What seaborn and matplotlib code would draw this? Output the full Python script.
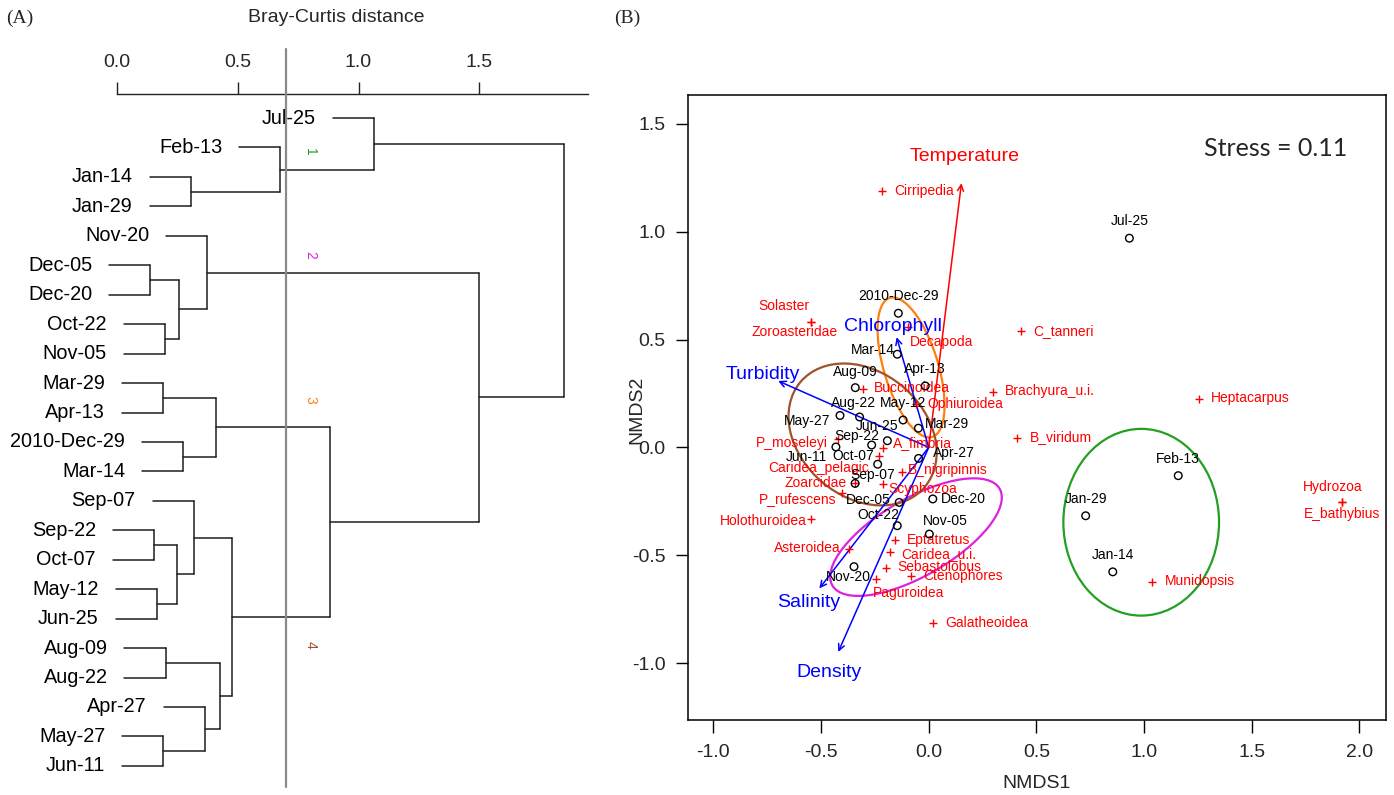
import numpy as np
import pandas as pd
import matplotlib
matplotlib.use("Agg")
import matplotlib.pyplot as plt
from matplotlib.patches import Ellipse
import seaborn as sns

# ------------------------------------------------------------------ data
# Panel A: dendrogram (Bray-Curtis distance)
leaf_order = ["Jul-25", "Feb-13", "Jan-14", "Jan-29", "Nov-20", "Dec-05", "Dec-20",
              "Oct-22", "Nov-05", "Mar-29", "Apr-13", "2010-Dec-29", "Mar-14",
              "Sep-07", "Sep-22", "Oct-07", "May-12", "Jun-25", "Aug-09", "Aug-22",
              "Apr-27", "May-27", "Jun-11"]
merge_a = ["Jan-14", "Feb-13", "Jul-25", "Dec-05", "Oct-22", "g4", "Nov-20", "Mar-29",
           "2010-Dec-29", "g8", "Sep-22", "May-12", "g11", "Sep-07", "Aug-09", "May-27",
           "Apr-27", "g15", "g14", "g10", "g7", "g3"]
merge_b = ["Jan-29", "g1", "g2", "Dec-20", "Nov-05", "g5", "g6", "Apr-13", "Mar-14",
           "g9", "Oct-07", "Jun-25", "g12", "g13", "Aug-22", "Jun-11", "g16", "g17",
           "g18", "g19", "g20", "g21"]
merge_id = ["g%d" % (i + 1) for i in range(22)]
merge_height = [0.306, 0.677, 1.065, 0.137, 0.197, 0.257, 0.373, 0.190, 0.274, 0.410,
                0.153, 0.165, 0.249, 0.318, 0.201, 0.192, 0.364, 0.426, 0.475, 0.880,
                1.497, 1.850]
cut_height = 0.70
axis_ticks_a = [0.0, 0.5, 1.0, 1.5]
cluster_labels = ["1", "2", "3", "4"]
cluster_label_rows = [1.15, 4.65, 9.58, 17.9]
cluster_colors = ["#22a022", "#e020e0", "#ff7f0e", "#a0522d"]

# Panel B: NMDS ordination
site_names = ["Jul-25", "Feb-13", "Jan-14", "Jan-29", "Nov-20", "Dec-05", "Dec-20",
              "Oct-22", "Nov-05", "Mar-29", "Apr-13", "2010-Dec-29", "Mar-14",
              "Sep-07", "Sep-22", "Oct-07", "May-12", "Jun-25", "Aug-09", "Aug-22",
              "Apr-27", "May-27", "Jun-11"]
site_x = [0.932, 1.159, 0.855, 0.729, -0.347, -0.137, 0.019, -0.146, 0.003, -0.048,
          -0.016, -0.141, -0.146, -0.342, -0.265, -0.237, -0.119, -0.192, -0.341,
          -0.321, -0.047, -0.412, -0.431]
site_y = [0.970, -0.131, -0.577, -0.317, -0.553, -0.255, -0.239, -0.363, -0.402, 0.089,
          0.285, 0.622, 0.432, -0.167, 0.011, -0.078, 0.127, 0.031, 0.277, 0.141,
          -0.051, 0.148, 0.002]

species_names = ["Cirripedia", "Solaster", "Zoroasteridae", "Decapoda", "C_tanneri",
                 "Brachyura_u.i.", "Heptacarpus", "B_viridum", "Hydrozoa", "E_bathybius",
                 "Munidopsis", "Buccinoidea", "Ophiuroidea", "A_fimbria", "P_moseleyi",
                 "Caridea_pelagic", "B_nigripinnis", "Zoarcidae", "Scyphozoa",
                 "P_rufescens", "Holothuroidea", "Asteroidea", "Eptatretus",
                 "Caridea_u.i.", "Sebastolobus", "Ctenophores", "Paguroidea",
                 "Galatheoidea"]
species_x = [-0.216, -0.547, -0.547, -0.095, 0.429, 0.300, 1.257, 0.412, 1.918, 1.918,
             1.039, -0.304, -0.061, -0.211, -0.420, -0.231, -0.123, -0.342, -0.214,
             -0.404, -0.548, -0.369, -0.157, -0.180, -0.200, -0.082, -0.245, 0.019]
species_y = [1.190, 0.583, 0.583, 0.560, 0.541, 0.259, 0.224, 0.045, -0.255, -0.255,
             -0.623, 0.269, 0.201, -0.001, 0.041, -0.040, -0.115, -0.167, -0.171,
             -0.213, -0.332, -0.471, -0.429, -0.487, -0.561, -0.595, -0.610, -0.813]

env_names = ["Temperature", "Chlorophyll", "Turbidity", "Salinity", "Density"]
env_x = [0.152, -0.149, -0.699, -0.508, -0.420]
env_y = [1.225, 0.511, 0.308, -0.654, -0.948]

ellipse_cx = [0.987, -0.059, -0.082, -0.307]
ellipse_cy = [-0.347, -0.416, 0.371, 0.060]
ellipse_w = [0.723, 0.897, 0.674, 0.755]
ellipse_h = [0.866, 0.358, 0.252, 0.580]
ellipse_angle = [0.0, 30.0, 107.0, -40.0]

stress_value = 0.11
nmds_ticks = [-1.0, -0.5, 0.0, 0.5, 1.0, 1.5, 2.0]

# ------------------------------------------------------------------ layout (pixels)
site_label_offset = {  # (dx, dy) px of label centre from point, y downwards
    "Jul-25": (0, -17), "Feb-13": (0, -17), "Jan-14": (0, -17), "Jan-29": (0, -17),
    "Nov-20": (-6, 10), "Dec-05": (-31, -2), "Dec-20": (31, 0), "Oct-22": (-19, -11),
    "Nov-05": (16, -13), "Mar-29": (29, -4), "Apr-13": (0, -17),
    "2010-Dec-29": (0, -17), "Mar-14": (-24, -4), "Sep-07": (18, -8),
    "Sep-22": (-15, -9), "Oct-07": (-24, -8), "May-12": (0, -17), "Jun-25": (-10, -15),
    "Aug-09": (0, -16), "Aug-22": (-6, -14), "Apr-27": (35, -5), "May-27": (-33, 6),
    "Jun-11": (-30, 10)}
species_label_offset = {  # (dx, dy, ha)
    "Cirripedia": (12, 0, "left"), "Solaster": (-27, -16, "center"),
    "Zoroasteridae": (-16, 10, "center"), "Decapoda": (2, 15, "left"),
    "C_tanneri": (12, 0, "left"), "Brachyura_u.i.": (12, -1, "left"),
    "Heptacarpus": (12, -1, "left"), "B_viridum": (12, -1, "left"),
    "Hydrozoa": (-9, -15, "center"), "E_bathybius": (0, 12, "center"),
    "Munidopsis": (12, -1, "left"), "Buccinoidea": (11, -1, "left"),
    "Ophiuroidea": (12, 0, "left"), "A_fimbria": (10, -5, "left"),
    "P_moseleyi": (-10, 4, "right"), "Caridea_pelagic": (-10, 12, "right"),
    "B_nigripinnis": (6, -2, "left"), "Zoarcidae": (-8, 0, "right"),
    "Scyphozoa": (6, 5, "left"), "P_rufescens": (-5, 6, "right"),
    "Holothuroidea": (-4, 2, "right"), "Asteroidea": (-9, -1, "right"),
    "Eptatretus": (12, 0, "left"), "Caridea_u.i.": (11, 2, "left"),
    "Sebastolobus": (12, -1, "left"), "Ctenophores": (12, 0, "left"),
    "Paguroidea": (-3, 14, "left"), "Galatheoidea": (12, 0, "left")}

W, H = 1394, 795
PX = 0.72  # points per pixel at dpi 100

sns.set_theme(style="white")
plt.rcParams["font.family"] = ["Liberation Sans", "DejaVu Sans"]

fig = plt.figure(figsize=(W / 100, H / 100), dpi=100)

# ================================================================== Panel A
row_px0, row_step = 118.0, 29.45
ax_top_px = 94.0
axA = fig.add_axes([0.0, 0.0, 600 / W, (H - ax_top_px) / H])
x_px0, x_scale = 117.0, 241.5
axA.set_xlim((0 - x_px0) / x_scale, (600 - x_px0) / x_scale)
axA.set_ylim((H - row_px0) / row_step, (ax_top_px - row_px0) / row_step)

hang = 0.17
pos = {name: i for i, name in enumerate(leaf_order)}
hgt = {}
line_col = "#1e1e1e"
for a, b, h, gid in zip(merge_a, merge_b, merge_height, merge_id):
    for child in (a, b):
        if child not in hgt:  # leaf
            hgt[child] = h - hang
        axA.plot([hgt[child], h], [pos[child], pos[child]], color=line_col, lw=1.1)
    axA.plot([h, h], [pos[a], pos[b]], color=line_col, lw=1.1)
    pos[gid] = (pos[a] + pos[b]) / 2.0
    hgt[gid] = h

for name in leaf_order:
    axA.annotate(name, xy=(hgt[name], pos[name]), xytext=(-17 * PX, 0),
                 textcoords="offset points", ha="right", va="center",
                 fontsize=14.3, color="black")

axA.plot([cut_height, cut_height], [(49 - row_px0) / row_step, (787 - row_px0) / row_step],
         color="#8a8a8a", lw=1.6, clip_on=False, zorder=5)

for lab, r, c in zip(cluster_labels, cluster_label_rows, cluster_colors):
    axA.text(0.80, r, lab, color=c, fontsize=10, rotation=-90, ha="center", va="center")

for s in ["left", "right", "bottom"]:
    axA.spines[s].set_visible(False)
axA.spines["top"].set_visible(True)
axA.spines["top"].set_color("#222222")
axA.spines["top"].set_linewidth(1.0)
axA.spines["top"].set_bounds(0.0, 1.95)
axA.xaxis.tick_top()
axA.set_xticks(axis_ticks_a)
axA.set_xticklabels(["%.1f" % t for t in axis_ticks_a])
axA.set_yticks([])
axA.tick_params(axis="x", direction="out", length=12 * PX, width=1.0, color="#222222",
                labelsize=14, pad=8, top=True, bottom=False)
axA.set_facecolor("none")

fig.text(336 / W, 1 - 18 / H, "Bray-Curtis distance", ha="center", va="center", fontsize=14)
fig.text(20 / W, 1 - 18 / H, "(A)", ha="center", va="center", fontsize=14,
         family=["Liberation Serif", "DejaVu Serif"])
fig.text(627 / W, 1 - 18 / H, "(B)", ha="center", va="center", fontsize=14,
         family=["Liberation Serif", "DejaVu Serif"])

# ================================================================== Panel B
bl, br, bt, bb = 688, 1386, 95, 720
axB = fig.add_axes([bl / W, 1 - bb / H, (br - bl) / W, (bb - bt) / H])
axB.set_xlim(-1.118, 2.124)
axB.set_ylim(-1.264, 1.634)

# ellipses (cluster groups)
for cx, cy, w, h, ang, col in zip(ellipse_cx, ellipse_cy, ellipse_w, ellipse_h,
                                  ellipse_angle, cluster_colors):
    axB.add_patch(Ellipse((cx, cy), w, h, angle=ang, fill=False, edgecolor=col,
                          lw=1.6, zorder=2))

# environmental vectors
for name, ex, ey in zip(env_names, env_x, env_y):
    col = "#ff0000" if name == "Temperature" else "#0000ff"
    axB.annotate("", xy=(ex, ey), xytext=(0, 0),
                 arrowprops=dict(arrowstyle="->", color=col, lw=1.1, shrinkA=0,
                                 shrinkB=0, mutation_scale=11), zorder=3)
    axB.text(1.1 * ex, 1.1 * ey, name, color=col, fontsize=14, ha="center",
             va="center", zorder=6)

# species
sp = pd.DataFrame({"x": species_x, "y": species_y, "name": species_names})
sns.scatterplot(data=sp, x="x", y="y", marker="+", color="#ff0000", s=34,
                linewidth=1.0, ax=axB, zorder=4, legend=False)
for name, x, y in zip(species_names, species_x, species_y):
    dx, dy, ha = species_label_offset[name]
    axB.annotate(name, xy=(x, y), xytext=(dx * PX, -dy * PX), textcoords="offset points",
                 ha=ha, va="center", fontsize=10, color="#ff0000", zorder=5)

# sites
st = pd.DataFrame({"x": site_x, "y": site_y, "name": site_names})
sns.scatterplot(data=st, x="x", y="y", marker="o", s=30, facecolors="none",
                edgecolor="black", linewidth=1.0, ax=axB, zorder=5, legend=False)
for name, x, y in zip(site_names, site_x, site_y):
    dx, dy = site_label_offset[name]
    axB.annotate(name, xy=(x, y), xytext=(dx * PX, -dy * PX), textcoords="offset points",
                 ha="center", va="center", fontsize=10, color="black", zorder=6)

axB.text(0.944, 0.915, "Stress = %.2f" % stress_value, transform=axB.transAxes,
         ha="right", va="center", fontsize=18, family=["Lato", "DejaVu Sans"])

axB.set_xticks(nmds_ticks)
axB.set_yticks([t for t in nmds_ticks if t <= 1.5])
axB.set_xticklabels(["%.1f" % t for t in nmds_ticks])
axB.set_yticklabels(["%.1f" % t for t in nmds_ticks if t <= 1.5])
axB.tick_params(axis="both", direction="out", length=12.5 * PX, width=1.0, color="black",
                labelsize=14, bottom=True, left=True)
axB.tick_params(axis="x", pad=8)
axB.tick_params(axis="y", pad=7)
for s in axB.spines.values():
    s.set_visible(True)
    s.set_color("black")
    s.set_linewidth(1.1)
axB.set_xlabel("")
axB.set_ylabel("")
fig.text(1037 / W, 1 - 783 / H, "NMDS1", ha="center", va="center", fontsize=14)
fig.text(637 / W, 1 - 410 / H, "NMDS2", ha="center", va="center", fontsize=14,
         rotation=90)

fig.savefig("out.png", dpi=100)
